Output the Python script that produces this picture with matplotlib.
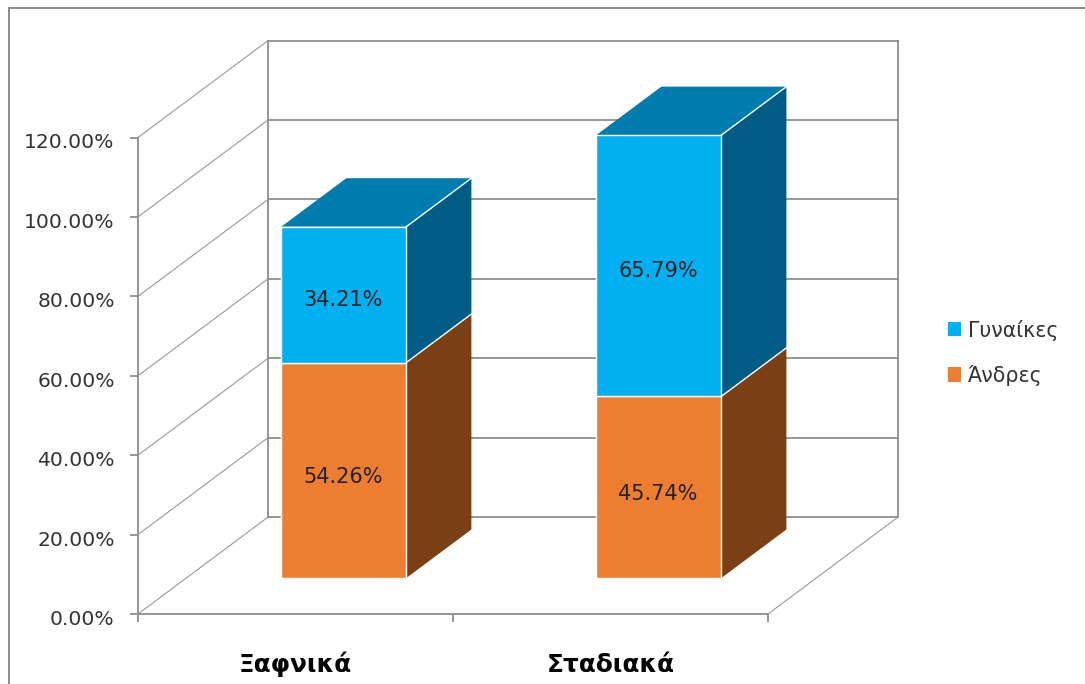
import matplotlib
matplotlib.use("Agg")
import matplotlib.pyplot as plt
from matplotlib.lines import Line2D
from matplotlib.patches import Patch, Polygon
from matplotlib.transforms import ScaledTranslation

categories = ["Ξαφνικά", "Σταδιακά"]
men = [54.26, 45.74]
women = [34.21, 65.79]
series_names = ["Άνδρες", "Γυναίκες"]
y_ticks = [0, 20, 40, 60, 80, 100, 120]

GRID = "#8e8e8e"
BAR_W = 0.397
DEPTH_X = 0.4127  # depth of the 3d box, axis units
DEPTH_Y = 24.4
D0, D1 = 0.372, 0.872  # where the bars sit inside the depth

W, H = 1085, 684
fig = plt.figure(figsize=(W / 100, H / 100), dpi=100)
ax = fig.add_axes([138 / W, 1 - 614 / H, 630 / W, 476.5 / H])
ax.set_xlim(0, 2)
ax.set_ylim(0, 120)
ax.patch.set_visible(False)

# picture frame, left and top only reach the image edge
fig.add_artist(Line2D([9 / W, 9 / W], [0, 1 - 8 / H], color="#8a8a8a", lw=1.4))
fig.add_artist(Line2D([9 / W, 1], [1 - 8 / H, 1 - 8 / H], color="#8a8a8a", lw=1.4))

# walls
for v in y_ticks:
    ax.plot([DEPTH_X, 2 + DEPTH_X], [v + DEPTH_Y] * 2, color=GRID, lw=1.3, clip_on=False, zorder=1)
    ax.plot([0, DEPTH_X], [v, v + DEPTH_Y], color="#9a9a9a", lw=0.8, clip_on=False, zorder=1)
ax.plot([DEPTH_X, DEPTH_X], [DEPTH_Y, 120 + DEPTH_Y], color=GRID, lw=1.3, clip_on=False, zorder=1)
ax.plot([2 + DEPTH_X] * 2, [DEPTH_Y, 120 + DEPTH_Y], color=GRID, lw=1.3, clip_on=False, zorder=1)
ax.plot([2, 2 + DEPTH_X], [0, DEPTH_Y], color="#9a9a9a", lw=0.8, clip_on=False, zorder=1)


def box(xc, bottom, height, front, side, top, label, drop):
    x0 = xc - BAR_W / 2 + D0 * DEPTH_X
    x1 = x0 + BAR_W
    y0 = bottom + D0 * DEPTH_Y
    y1 = y0 + height
    dx = (D1 - D0) * DEPTH_X
    dy = (D1 - D0) * DEPTH_Y
    ax.add_patch(Polygon([(x1, y0), (x1 + dx, y0 + dy), (x1 + dx, y1 + dy), (x1, y1)],
                         fc=side, ec="none", clip_on=False, zorder=3))
    ax.add_patch(Polygon([(x0, y1), (x1, y1), (x1 + dx, y1 + dy), (x0 + dx, y1 + dy)],
                         fc=top, ec="none", clip_on=False, zorder=3))
    ax.bar(x0, height, BAR_W, bottom=y0, align="edge", color=front, edgecolor="white",
           linewidth=1, clip_on=False, zorder=4)
    ax.plot([x1, x1 + dx], [y1, y1 + dy], color="white", lw=1, clip_on=False, zorder=4)
    ax.annotate(label, ((x0 + x1) / 2, y0 + height / 2), xytext=(-0.5, -drop), textcoords="offset points",
                ha="center", va="center", fontsize=15, color="#222222", zorder=5)


for i in range(len(categories)):
    xc = i + 0.5
    box(xc, 0, men[i], "#ED7D31", "#7B3F14", "#7B3F14", f"{men[i]:.2f}%", 5)
    box(xc, men[i], women[i], "#00B0F0", "#005C85", "#007DAE", f"{women[i]:.2f}%", 4)

ax.spines[["top", "right"]].set_visible(False)
ax.spines[["left", "bottom"]].set_color(GRID)
ax.spines[["left", "bottom"]].set_linewidth(1.3)
ax.set_yticks(y_ticks, [f"{v:.2f}%" for v in y_ticks], fontsize=14.6, color="#333333")
ax.tick_params(axis="y", length=5.8, width=1.3, color=GRID, pad=11)
for t in ax.get_yticklabels():
    t.set_transform(t.get_transform() + ScaledTranslation(0, -3.5 / 100, fig.dpi_scale_trans))
ax.set_xticks([0, 1, 2], ["", "", ""])
ax.tick_params(axis="x", length=5.8, width=1.3, color=GRID)
ax.set_xticks([0.5, 1.5], categories, minor=True, fontsize=17.8, fontweight="bold")
ax.tick_params(axis="x", which="minor", length=0, pad=41.8)
for t in ax.get_xticklabels(minor=True):
    t.set_verticalalignment("baseline")

handles = [Patch(fc="#00B0F0", ec="none"), Patch(fc="#ED7D31", ec="none")]
fig.legend(handles, series_names[::-1], loc="upper left", bbox_to_anchor=(929 / W, 1 - 301 / H),
           frameon=False, fontsize=14.8, handlelength=0.68, handleheight=0.68, handletextpad=0.3,
           labelspacing=1.18, labelcolor="#333333")

fig.savefig("out.png", dpi=100)
